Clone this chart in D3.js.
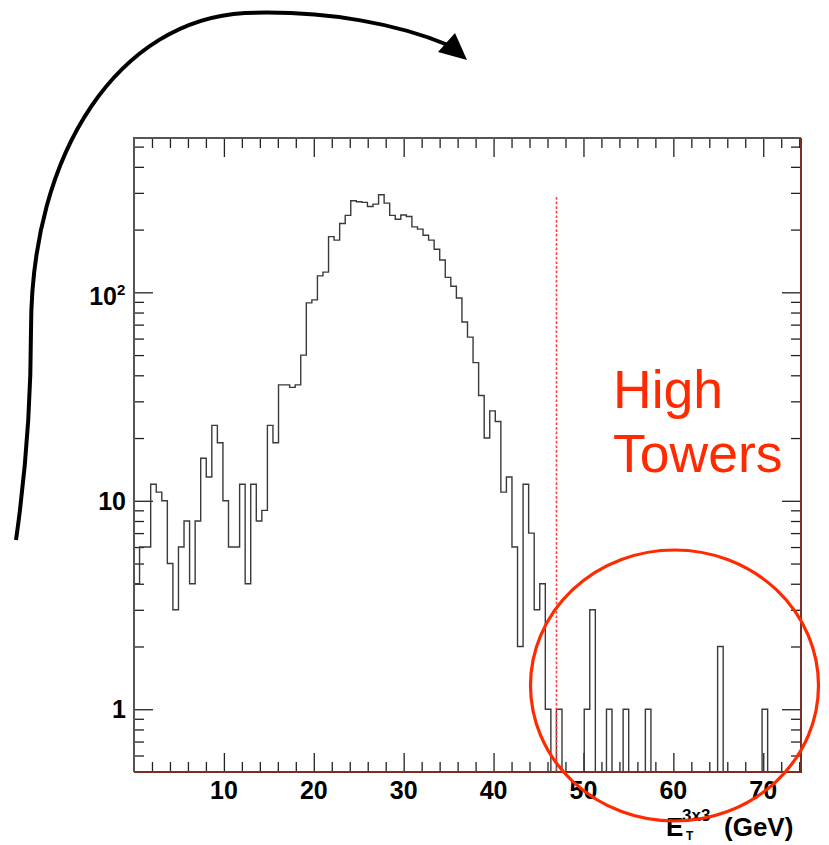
<!DOCTYPE html>
<html>
<head>
<meta charset="utf-8">
<script src="https://cdn.jsdelivr.net/npm/d3@7"></script>
<style>
  html, body { margin: 0; padding: 0; background: #fff; }
  svg { display: block; }
</style>
</head>
<body>
<div id="chart"></div>
<script>
// histogram: 120 bins over the x range, counts per bin
const xRange = [0, 74.2];
const yRange = [0.5, 550];
const binCounts = [
    4, 6, 6, 12, 11, 10, 5, 3, 6, 8,
    4, 8, 16, 13, 23, 19, 10, 6, 6, 12,
    4, 12, 8, 9, 23, 19, 36, 36, 35, 36,
    50, 89, 92, 120, 125, 185, 178, 214, 234, 275,
    272, 270, 258, 265, 294, 268, 234, 224, 235, 231,
    206, 201, 188, 178, 161, 143, 118, 107, 94, 72,
    61, 46, 32, 20, 27, 24, 11, 13, 6, 2,
    12, 7, 3, 4, 1, 0, 1, 0, 0, 0,
    0, 1, 3, 0, 0, 1, 0, 0, 1, 0,
    0, 0, 1, 0, 0, 0, 0, 0, 0, 0,
    0, 0, 0, 0, 0, 2, 0, 0, 0, 0,
    0, 0, 0, 1, 0, 0, 0, 0, 0, 0
];
const xMajorTicks = [10, 20, 30, 40, 50, 60, 70];
const xMinorStep = 2;
const yMajorTicks = [1, 10, 100];
const yTickLabels = [['1', ''], ['10', ''], ['10', '2']];
const cutValue = 47;
const noteLines = ['High', 'Towers'];
const axisTitle = { main: 'E', sup: '3x3', sub: 'T', unit: '(GeV)' };

const W = 829, H = 845;
const frame = { left: 134, right: 801, top: 138, bottom: 772 };
const font = '"Liberation Sans", Arial, Helvetica, sans-serif';

const svg = d3.select('#chart').append('svg')
    .attr('width', W)
    .attr('height', H);

const x = d3.scaleLinear().domain(xRange).range([frame.left, frame.right]);
const y = d3.scaleLog().domain(yRange).range([frame.bottom, frame.top]).clamp(true);

// minor tick values
const xMinor = d3.range(xMinorStep, xRange[1], xMinorStep).filter(v => v % 10 !== 0);
const yMinor = [];
[0.1, 1, 10, 100].forEach(d => {
    for (let k = 2; k <= 9; k++) {
        const v = d * k;
        if (v > yRange[0] && v < yRange[1]) yMinor.push(v);
    }
});

// Ticks (pointing inward on all four sides)
function tickGroup(axis, tx, ty) {
    const g = svg.append('g').attr('transform', `translate(${tx},${ty})`).call(axis);
    g.select('.domain').remove();
    g.selectAll('line').attr('stroke', '#222').attr('stroke-width', 1.3);
    g.selectAll('text').remove();
    return g;
}
tickGroup(d3.axisBottom(x).tickValues(xMajorTicks).tickSize(-19).tickSizeOuter(0), 0, frame.bottom);
tickGroup(d3.axisBottom(x).tickValues(xMinor).tickSize(-10).tickSizeOuter(0), 0, frame.bottom);
tickGroup(d3.axisTop(x).tickValues(xMajorTicks).tickSize(-19).tickSizeOuter(0), 0, frame.top);
tickGroup(d3.axisTop(x).tickValues(xMinor).tickSize(-10).tickSizeOuter(0), 0, frame.top);
tickGroup(d3.axisLeft(y).tickValues(yMajorTicks).tickSize(-19).tickSizeOuter(0), frame.left, 0);
tickGroup(d3.axisLeft(y).tickValues(yMinor).tickSize(-10).tickSizeOuter(0), frame.left, 0);
tickGroup(d3.axisRight(y).tickValues(yMajorTicks).tickSize(-19).tickSizeOuter(0), frame.right, 0);
tickGroup(d3.axisRight(y).tickValues(yMinor).tickSize(-10).tickSizeOuter(0), frame.right, 0);

// Histogram outline
const binW = (xRange[1] - xRange[0]) / binCounts.length;
const pts = [[xRange[0], 0]];
binCounts.forEach((c, i) => {
    pts.push([xRange[0] + i * binW, c]);
    pts.push([xRange[0] + (i + 1) * binW, c]);
});
pts.push([xRange[1], 0]);
const line = d3.line()
    .x(d => x(d[0]))
    .y(d => d[1] > 0 ? y(d[1]) : frame.bottom);
svg.append('path')
    .attr('d', line(pts))
    .attr('fill', 'none')
    .attr('stroke', '#3a3a3a')
    .attr('stroke-width', 1.4);

// Frame
svg.append('path')
    .attr('d', `M${frame.left},${frame.bottom}V${frame.top}H${frame.right}`)
    .attr('fill', 'none').attr('stroke', '#555').attr('stroke-width', 2);
svg.append('path')
    .attr('d', `M${frame.left},${frame.bottom}H${frame.right}V${frame.top}`)
    .attr('fill', 'none').attr('stroke', '#7a2e26').attr('stroke-width', 2);

// Tick labels
svg.append('g').selectAll('text')
    .data(xMajorTicks)
    .enter()
    .append('text')
    .attr('x', d => x(d))
    .attr('y', frame.bottom + 27)
    .attr('text-anchor', 'middle')
    .style('font-family', font).style('font-weight', 'bold').style('font-size', '25px')
    .attr('fill', '#000')
    .text(d => d);

const yl = svg.append('g').selectAll('text')
    .data(yMajorTicks)
    .enter()
    .append('text')
    .attr('x', (d, i) => yTickLabels[i][1] ? frame.left - 17 : frame.left - 8)
    .attr('y', (d, i) => y(d) + (yTickLabels[i][1] ? 13 : 9))
    .attr('text-anchor', 'end')
    .style('font-family', font).style('font-weight', 'bold').style('font-size', '25px')
    .attr('fill', '#000');
yl.append('tspan').text((d, i) => yTickLabels[i][0]);
svg.append('g').selectAll('text')
    .data(yMajorTicks.filter((d, i) => yTickLabels[i][1]))
    .enter()
    .append('text')
    .attr('x', frame.left - 17)
    .attr('y', d => y(d) + 3)
    .style('font-family', font).style('font-weight', 'bold').style('font-size', '15px')
    .attr('fill', '#000')
    .text('2');

// Axis title
const tt = svg.append('g').style('font-family', font).style('font-weight', 'bold').attr('fill', '#000');
tt.append('text').attr('x', 666).attr('y', 836).style('font-size', '26px').text(axisTitle.main);
tt.append('text').attr('x', 682).attr('y', 821).style('font-size', '17px').text(axisTitle.sup);
tt.append('text').attr('x', 686).attr('y', 840).style('font-size', '12px').text(axisTitle.sub);
tt.append('text').attr('x', 724).attr('y', 836).style('font-size', '26px').text(axisTitle.unit);

// Cut line
svg.append('line')
    .attr('x1', x(cutValue)).attr('x2', x(cutValue))
    .attr('y1', 197).attr('y2', frame.bottom)
    .attr('stroke', '#ff4040')
    .attr('stroke-width', 1.6)
    .attr('stroke-dasharray', '2.7,1.9');

// Annotation
svg.append('g').selectAll('text')
    .data(noteLines)
    .enter()
    .append('text')
    .attr('x', 613)
    .attr('y', (d, i) => 408 + i * 64)
    .style('font-family', font).style('font-size', '53.5px')
    .attr('fill', '#ff2a00')
    .text(d => d);

svg.append('ellipse')
    .attr('cx', 674.5).attr('cy', 685.5)
    .attr('rx', 144).attr('ry', 135.5)
    .attr('fill', 'none')
    .attr('stroke', '#ff2a00')
    .attr('stroke-width', 3.2);

// Curved arrow
svg.append('path')
    .attr('d', 'M16,540 C26,470 31,400 31,330 C31,150 120,20 245,13 C330,10 400,25 448,45')
    .attr('fill', 'none')
    .attr('stroke', '#000')
    .attr('stroke-width', 4);
svg.append('path')
    .attr('d', 'M467,60 L438,52 L455,33 Z')
    .attr('fill', '#000');
</script>
</body>
</html>
